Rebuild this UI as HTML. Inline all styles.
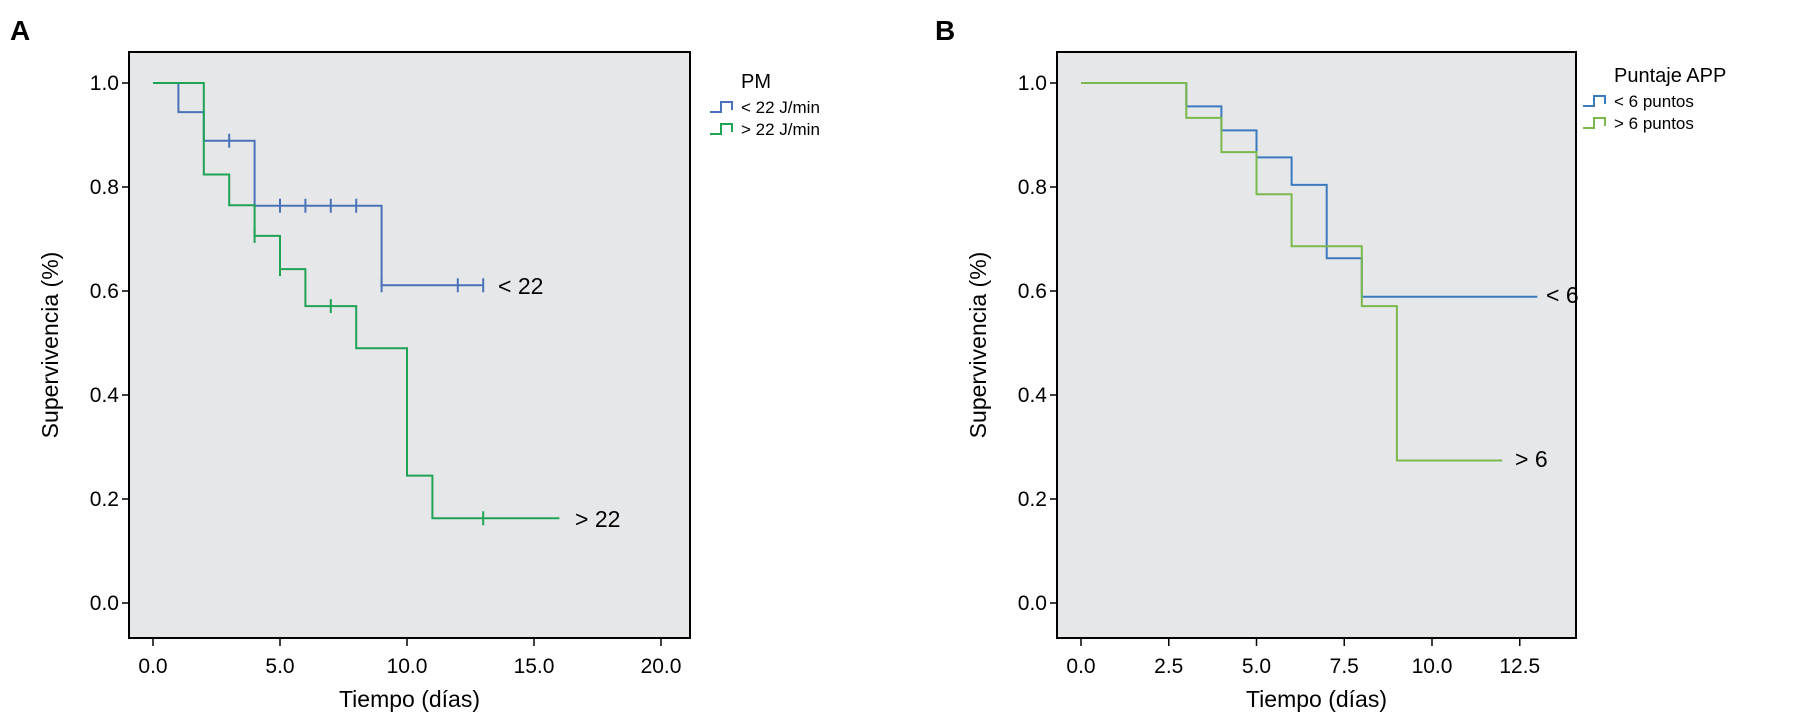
<!DOCTYPE html>
<html><head><meta charset="utf-8"><style>
body{margin:0;background:#fff;}
svg{display:block;font-family:"Liberation Sans",Arial,sans-serif;}
</style></head><body>
<svg id="chart" width="1800" height="715" viewBox="0 0 1800 715" xmlns="http://www.w3.org/2000/svg"></svg>
<script>
// Panel A data
const aBlueTimes=[0,1,2,4,9,13];
const aBlueSurv=[1.0,0.944,0.889,0.764,0.611];
const aBlueCens=[[3,0.889],[5,0.764],[6,0.764],[7,0.764],[8,0.764],[9,0.611],[12,0.611],[13,0.611]];
const aGreenTimes=[0,2,3,4,5,6,8,10,11,16];
const aGreenSurv=[1.0,0.824,0.765,0.706,0.642,0.571,0.49,0.245,0.163];
const aGreenCens=[[4,0.706],[5,0.642],[7,0.571],[13,0.163]];
const aXTicks=[0,5,10,15,20];
const aXLabels=["0.0","5.0","10.0","15.0","20.0"];
// Panel B data
const bBlueTimes=[0,3,4,5,6,7,8,13];
const bBlueSurv=[1.0,0.955,0.909,0.857,0.804,0.663,0.589];
const bGreenTimes=[0,3,4,5,6,8,9,12];
const bGreenSurv=[1.0,0.933,0.867,0.786,0.686,0.571,0.274];
const bXTicks=[0,2.5,5,7.5,10,12.5];
const bXLabels=["0.0","2.5","5.0","7.5","10.0","12.5"];
const yTicks=[0,0.2,0.4,0.6,0.8,1.0];
const yLabels=["0.0","0.2","0.4","0.6","0.8","1.0"];

const NS="http://www.w3.org/2000/svg";
const svg=document.getElementById('chart');
function mk(tag,attrs,parent,text){const e=document.createElementNS(NS,tag);for(const k in attrs)e.setAttribute(k,attrs[k]);if(text!==undefined)e.textContent=text;(parent||svg).appendChild(e);return e;}

function panel(p){
  const g=mk('g',{});
  
  
  const X=v=>p.x0+v*p.xs, Y=v=>603-v*520;
  const fr=mk('rect',{x:p.left,y:52,width:p.right-p.left,height:586,fill:'#e6e7e9',stroke:'#000','stroke-width':2},g);
  
  
  const L=mk('text',{x:p.letterX,y:40,'font-size':28,'font-weight':'bold'},g,p.letter);
  
  
  yTicks.forEach((t,i)=>{
    mk('line',{x1:p.left-7,x2:p.left,y1:Y(t),y2:Y(t),stroke:'#000','stroke-width':1.5},g);
    const tl=mk('text',{x:p.left-10,y:Y(t)+7,'font-size':21,'text-anchor':'end'},g,yLabels[i]);
    
    
  });
  p.xt.forEach((t,i)=>{
    mk('line',{x1:X(t),x2:X(t),y1:638,y2:646,stroke:'#000','stroke-width':1.5},g);
    const tl=mk('text',{x:X(t),y:673,'font-size':21,'text-anchor':'middle'},g,p.xl[i]);
    
    
  });
  const xt=mk('text',{x:(p.left+p.right)/2,y:707,'font-size':23,'text-anchor':'middle'},g,'Tiempo (días)');
  
  
  const yt=mk('text',{x:0,y:0,'font-size':23,'text-anchor':'middle',transform:`translate(${p.ytX},345) rotate(-90)`},g,'Supervivencia (%)');
  
  
  p.series.forEach(s=>{
    let d=`M${X(s.t[0])},${Y(s.s[0])}`;
    for(let i=0;i<s.s.length;i++){
      d+=` H${X(s.t[i+1])}`;
      if(i+1<s.s.length) d+=` V${Y(s.s[i+1])}`;
    }
    const pa=mk('path',{d:d,fill:'none',stroke:s.c,'stroke-width':2},g);
    
    
    (s.cens||[]).forEach(c=>{
      const m=mk('line',{x1:X(c[0]),x2:X(c[0]),y1:Y(c[1])-7,y2:Y(c[1])+7,stroke:s.c,'stroke-width':2},g);
      
      
    });
    const lb=mk('text',{x:s.lx,y:s.ly,'font-size':23},g,s.label);
    
    
  });
  const lt=mk('text',{x:p.legX+31,y:p.legY,'font-size':20},g,p.legTitle);
  
  
  p.series.forEach((s,i)=>{
    const yy=p.legY+20+i*22;
    const sym=mk('path',{d:`M${p.legX},${yy+4} h11 v-10 h11 v8`,fill:'none',stroke:s.c,'stroke-width':2},g);
    
    
    const et=mk('text',{x:p.legX+31,y:yy+5,'font-size':17},g,s.legend);
    
    
  });
}

panel({name:'panel-a',letter:'A',letterX:10,left:129,right:690,x0:153,xs:25.4,xt:aXTicks,xl:aXLabels,ytX:58,
  legX:710,legY:88,legTitle:'PM',
  series:[
    {name:'curve-lt22',t:aBlueTimes,s:aBlueSurv,cens:aBlueCens,c:'#4a72b8',label:'< 22',lx:498,ly:294,legend:'< 22 J/min'},
    {name:'curve-gt22',t:aGreenTimes,s:aGreenSurv,cens:aGreenCens,c:'#1fa456',label:'> 22',lx:575,ly:527,legend:'> 22 J/min'}
  ]});
panel({name:'panel-b',letter:'B',letterX:935,left:1057,right:1576,x0:1081,xs:35.1,xt:bXTicks,xl:bXLabels,ytX:986,
  legX:1583,legY:82,legTitle:'Puntaje APP',
  series:[
    {name:'curve-lt6',t:bBlueTimes,s:bBlueSurv,c:'#3a7bbf',label:'< 6',lx:1546,ly:303,legend:'< 6 puntos'},
    {name:'curve-gt6',t:bGreenTimes,s:bGreenSurv,c:'#7bb84e',label:'> 6',lx:1515,ly:467,legend:'> 6 puntos'}
  ]});
</script>
</body></html>
